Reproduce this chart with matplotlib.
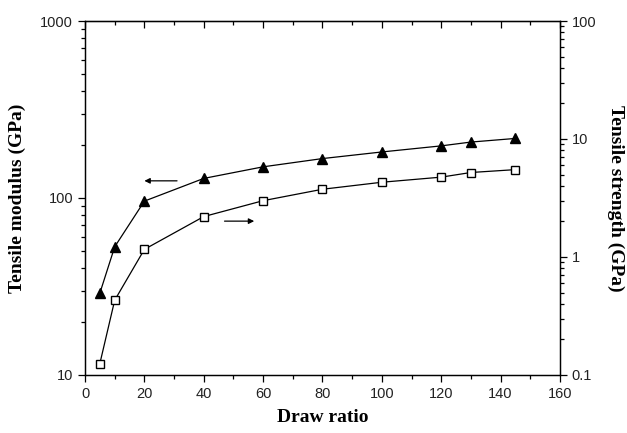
import matplotlib
matplotlib.use("Agg")
import matplotlib.pyplot as plt
from matplotlib.ticker import MultipleLocator, LogLocator, NullFormatter, FixedLocator, FixedFormatter

# draw ratio vs tensile modulus / tensile strength
draw_ratio = [5, 10, 20, 40, 60, 80, 100, 120, 130, 145]
modulus = [29, 53, 96, 129, 150, 167, 182, 197, 207, 217]   # GPa, left axis
strength = [0.125, 0.43, 1.16, 2.2, 3.0, 3.75, 4.3, 4.75, 5.2, 5.5]  # GPa, right axis

tick_font = "Liberation Sans"
label_font = "Liberation Serif"

fig = plt.figure(figsize=(6.27, 4.33), dpi=100)
ax = fig.add_axes([0.1356, 0.134, 0.7574, 0.8175])
ax2 = ax.twinx()

ax.plot(draw_ratio, modulus, color="black", lw=0.9, marker="^", ms=7.5,
        mfc="black", mec="black")
ax2.plot(draw_ratio, strength, color="black", lw=0.9, marker="s", ms=6,
         mfc="white", mec="black", mew=1.0)

ax.set_xlim(0, 160)
ax.set_yscale("log")
ax.set_ylim(10, 1000)
ax2.set_yscale("log")
ax2.set_ylim(0.1, 100)

# arrows pointing to the axis each curve belongs to
ax.annotate("", xy=(20, 125), xytext=(31, 125),
            arrowprops=dict(arrowstyle="-|>", color="black", lw=0.9,
                            mutation_scale=8, shrinkA=0, shrinkB=0))
ax.annotate("", xy=(57, 74), xytext=(47, 74),
            arrowprops=dict(arrowstyle="-|>", color="black", lw=0.9,
                            mutation_scale=8, shrinkA=0, shrinkB=0))

ax.xaxis.set_major_locator(MultipleLocator(20))
ax.xaxis.set_minor_locator(MultipleLocator(10))
ax.yaxis.set_major_locator(FixedLocator([10, 100, 1000]))
ax.yaxis.set_major_formatter(FixedFormatter(["10", "100", "1000"]))
ax.yaxis.set_minor_locator(LogLocator(base=10, subs=range(2, 10)))
ax.yaxis.set_minor_formatter(NullFormatter())
ax2.yaxis.set_major_locator(FixedLocator([0.1, 1, 10, 100]))
ax2.yaxis.set_major_formatter(FixedFormatter(["0.1", "1", "10", "100"]))
ax2.yaxis.set_minor_locator(LogLocator(base=10, subs=range(2, 10)))
ax2.yaxis.set_minor_formatter(NullFormatter())

ax.tick_params(axis="x", which="both", direction="out", top=False, labelsize=10.5)
ax.tick_params(axis="x", which="major", length=5, width=0.9)
ax.tick_params(axis="x", which="minor", length=3, width=0.9)
ax.tick_params(axis="y", which="major", direction="out", length=5, width=0.9, labelsize=10.5)
ax.tick_params(axis="y", which="minor", direction="out", length=3, width=0.9)
ax2.tick_params(axis="y", which="major", direction="out", length=5, width=0.9, labelsize=10.5)
ax2.tick_params(axis="y", which="minor", direction="out", length=3, width=0.9)

# top ticks point inward
ax_top = ax.secondary_xaxis("top")
ax_top.xaxis.set_major_locator(MultipleLocator(20))
ax_top.xaxis.set_minor_locator(MultipleLocator(10))
ax_top.tick_params(which="both", direction="in", labeltop=False, width=0.9)
ax_top.tick_params(which="major", length=5)
ax_top.tick_params(which="minor", length=3)

for a in (ax, ax2):
    for s in a.spines.values():
        s.set_linewidth(0.9)
    for lab in a.get_xticklabels() + a.get_yticklabels():
        lab.set_fontfamily(tick_font)
        lab.set_color("#222222")

ax.set_xlabel("Draw ratio", fontfamily=label_font, fontweight="bold", fontsize=14, labelpad=6)
ax.set_ylabel("Tensile modulus (GPa)", fontfamily=label_font, fontweight="bold", fontsize=14, labelpad=10)
ax2.set_ylabel("Tensile strength (GPa)", fontfamily=label_font, fontweight="bold", fontsize=14,
               rotation=270, labelpad=20)

fig.savefig("out.png", dpi=100)
